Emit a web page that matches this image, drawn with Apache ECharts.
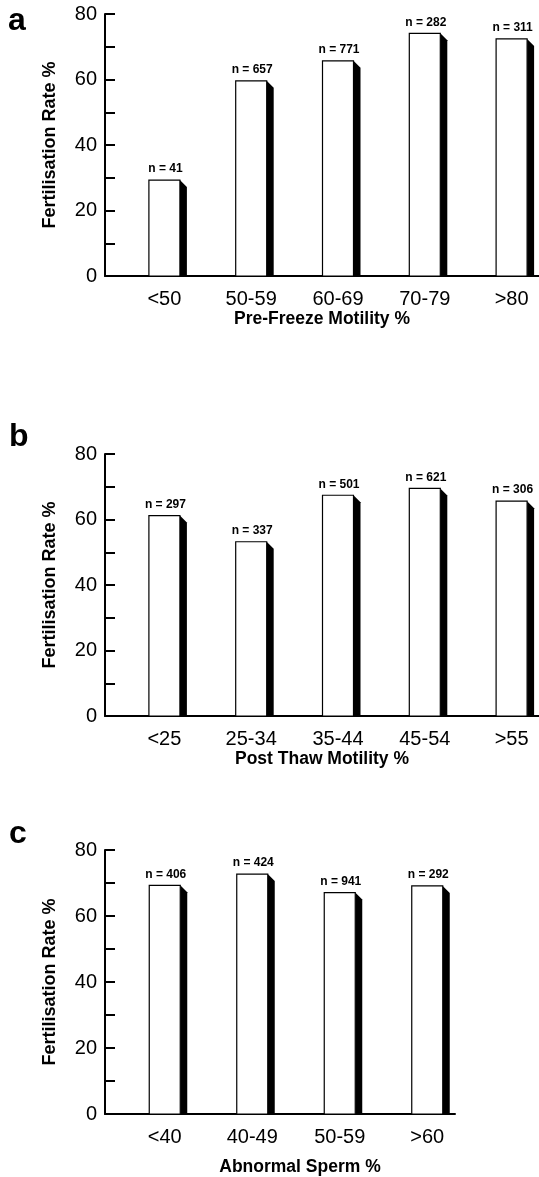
<!DOCTYPE html>
<html>
<head>
<meta charset="utf-8">
<script src="https://cdn.jsdelivr.net/npm/echarts@6/dist/echarts.min.js"></script>
<style>
  html, body { margin: 0; padding: 0; background: #fff; }
  #chart { width: 539px; height: 1177px; }
</style>
</head>
<body>
<div id="chart"></div>
<script>
// panel a - pre-freeze motility
const catsA = ['<50', '50-59', '60-69', '70-79', '>80'];
const rateA = [29.3, 59.6, 65.7, 74.1, 72.4];
const nA = [41, 657, 771, 282, 311];

// panel b - post thaw motility
const catsB = ['<25', '25-34', '35-44', '45-54', '>55'];
const rateB = [61.2, 53.2, 67.4, 69.5, 65.6];
const nB = [297, 337, 501, 621, 306];

// panel c - abnormal sperm
const catsC = ['<40', '40-49', '50-59', '>60'];
const rateC = [69.3, 72.7, 67.1, 69.1];
const nC = [406, 424, 941, 292];

const yTicks = [0, 20, 40, 60, 80];

const font = "'Liberation Sans', Arial, Helvetica, sans-serif";

// white front face, black shaded side, n label on top
function renderBar(params, api) {
  const top = api.coord([api.value(0), api.value(1)]);
  const base = api.coord([api.value(0), 0]);
  const w = 31, side = 7, shift = 16;
  const x0 = top[0] + shift - w / 2;
  const x1 = x0 + w;
  return {
    type: 'group',
    children: [
      {
        type: 'polygon',
        shape: { points: [[x1, top[1]], [x1 + side, top[1] + side], [x1 + side, base[1]], [x1, base[1]]] },
        style: { fill: '#000' }
      },
      {
        type: 'rect',
        shape: { x: x0, y: top[1], width: w, height: base[1] - top[1] },
        style: { fill: '#fff', stroke: '#000', lineWidth: 1.2 }
      },
      {
        type: 'text',
        style: {
          text: 'n = ' + api.value(2),
          x: x0 + w / 2 + 1, y: top[1] - 11,
          align: 'center', verticalAlign: 'middle',
          font: 'bold 12px ' + font, fill: '#000'
        }
      }
    ]
  };
}

function yAxis(idx) {
  return {
    gridIndex: idx,
    type: 'value',
    min: 0, max: 80, interval: 10,
    name: 'Fertilisation Rate %',
    nameLocation: 'middle',
    nameGap: 46,
    nameTextStyle: { fontSize: 18, fontWeight: 'bold', color: '#000', fontFamily: font },
    axisLine: { show: true, lineStyle: { color: '#000', width: 2 } },
    axisTick: { show: true, inside: true, length: 10, lineStyle: { color: '#000', width: 2 } },
    axisLabel: {
      fontSize: 20, color: '#000', margin: 8, fontFamily: font,
      formatter: v => yTicks.includes(v) ? String(v) : ''
    },
    splitLine: { show: false }
  };
}

function xAxis(idx, cats, name, gap, namePad) {
  return {
    gridIndex: idx,
    type: 'category',
    data: cats,
    name: name,
    nameLocation: 'middle',
    nameGap: gap,
    nameTextStyle: { fontSize: 17.5, fontWeight: 'bold', color: '#000', fontFamily: font, padding: namePad },
    axisLine: { lineStyle: { color: '#000', width: 2 } },
    axisTick: { show: false },
    axisLabel: { fontSize: 20, color: '#000', margin: 13, fontFamily: font, padding: [0, 0, 0, 32], interval: 0 },
    splitLine: { show: false }
  };
}

function barSeries(idx, rates, ns) {
  return {
    type: 'custom',
    xAxisIndex: idx,
    yAxisIndex: idx,
    renderItem: renderBar,
    encode: { x: 0, y: 1 },
    data: rates.map((v, i) => [i, v, ns[i]]),
    clip: false
  };
}

const chart = echarts.init(document.getElementById('chart'));
chart.setOption({
  animation: false,
  backgroundColor: '#fff',
  textStyle: { fontFamily: font },
  grid: [
    { left: 105, top: 14, width: 435, height: 262 },
    { left: 105, top: 454, width: 435, height: 262 },
    { left: 105, top: 850, width: 350, height: 264 }
  ],
  xAxis: [
    xAxis(0, catsA, 'Pre-Freeze Motility %', 32, [0, 0, 0, 0]),
    xAxis(1, catsB, 'Post Thaw Motility %', 31, [0, 0, 0, 0]),
    xAxis(2, catsC, 'Abnormal Sperm %', 44, [0, 0, 0, 40])
  ],
  yAxis: [yAxis(0), yAxis(1), yAxis(2)],
  graphic: [
    { type: 'text', style: { text: 'a', x: 8, y: 21, verticalAlign: 'middle', font: 'bold 32px ' + font, fill: '#000' } },
    { type: 'text', style: { text: 'b', x: 9, y: 437, verticalAlign: 'middle', font: 'bold 32px ' + font, fill: '#000' } },
    { type: 'text', style: { text: 'c', x: 9, y: 834, verticalAlign: 'middle', font: 'bold 32px ' + font, fill: '#000' } }
  ],
  series: [
    barSeries(0, rateA, nA),
    barSeries(1, rateB, nB),
    barSeries(2, rateC, nC)
  ]
});
</script>
</body>
</html>
